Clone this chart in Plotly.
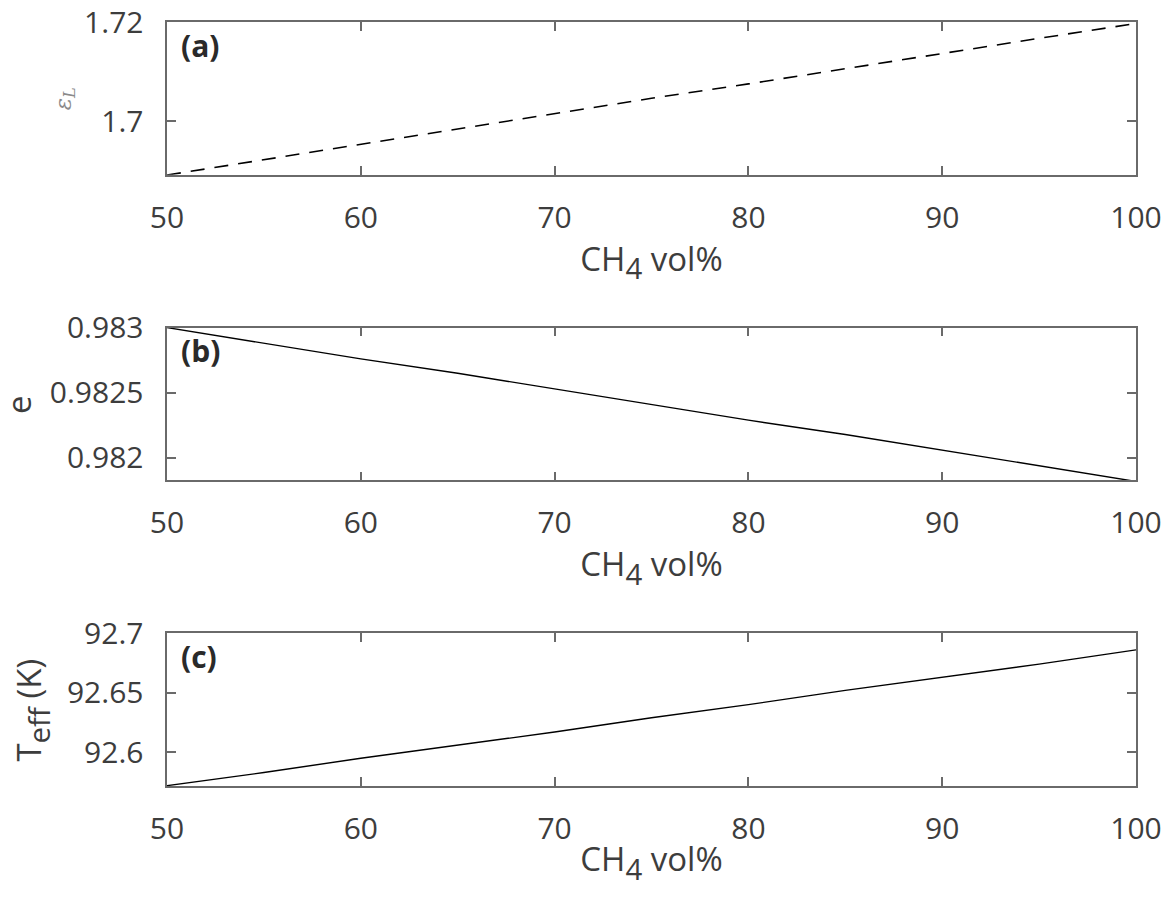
import plotly.graph_objects as go
from plotly.subplots import make_subplots

# CH4 volume percent
ch4_vol = [50, 55, 60, 65, 70, 75, 80, 85, 90, 95, 100]
# (a) epsilon_L
eps_l = [1.6891, 1.6922, 1.6953, 1.6984, 1.7015, 1.7046, 1.7075, 1.7106, 1.7137, 1.7167, 1.7197]
# (b) emissivity e
emis = [0.98300, 0.98288, 0.98276, 0.98265, 0.98253, 0.98241, 0.98229, 0.98218, 0.98206, 0.98194, 0.98182]
# (c) effective temperature (K)
t_eff = [92.572, 92.583, 92.595, 92.606, 92.617, 92.629, 92.640, 92.652, 92.663, 92.674, 92.686]

x_ticks = [50, 60, 70, 80, 90, 100]
panel_labels = ["(a)", "(b)", "(c)"]

FONT = "Open Sans"
TXT = "#3d3d3d"
AX = "#6a6a6a"
NB = "\u00a0"
x_title = "CH<span style='font-size:42px'><sub>4</sub></span> vol%"

fig = make_subplots(rows=3, cols=1, vertical_spacing=0.2)

fig.add_trace(go.Scatter(x=ch4_vol, y=eps_l, mode="lines",
                         line=dict(color="black", width=1.6, dash="14px,10px")), row=1, col=1)
fig.add_trace(go.Scatter(x=ch4_vol, y=emis, mode="lines",
                         line=dict(color="black", width=1.4)), row=2, col=1)
fig.add_trace(go.Scatter(x=ch4_vol, y=t_eff, mode="lines",
                         line=dict(color="black", width=1.4)), row=3, col=1)

common = dict(showline=True, linecolor=AX, linewidth=1.5, mirror="ticks",
              ticks="inside", ticklen=9, tickwidth=1.5, tickcolor=AX,
              showgrid=False, zeroline=False, automargin=False,
              ticklabeloverflow="allow",
              tickfont=dict(family=FONT, size=30, color=TXT))

for r in (1, 2, 3):
    fig.update_xaxes(range=[50, 100], tickvals=x_ticks, row=r, col=1,
                     ticklabelstandoff=15,
                     title=dict(text=x_title, standoff=12,
                                font=dict(family=FONT, size=33, color=TXT)),
                     **common)

fig.update_yaxes(range=[1.68915, 1.72], tickvals=[1.7, 1.72],
                 ticktext=["1.7" + NB, "1.72" + NB], ticklabelstandoff=8,
                 row=1, col=1, **common)
fig.update_yaxes(range=[0.981828, 0.983], tickvals=[0.982, 0.9825, 0.983],
                 ticktext=["0.982" + NB, "0.9825" + NB, "0.983" + NB], ticklabelstandoff=8,
                 row=2, col=1, **common)
fig.update_yaxes(range=[92.5717, 92.7], tickvals=[92.6, 92.65, 92.7],
                 ticktext=["92.6" + NB, "92.65" + NB, "92.7" + NB], ticklabelstandoff=8,
                 row=3, col=1, **common)

# y titles placed as rotated annotations (plot area is 969 px wide)
y_titles = [
    ("<i>ε<sub>L</sub></i>", -0.1053, dict(family="DejaVu Serif", size=23, color="#8a8a8a")),
    ("e", -0.1538, dict(family=FONT, size=33, color=TXT)),
    ("T<span style='font-size:42px'><sub>eff</sub></span> (K)", -0.1383, dict(family=FONT, size=33, color=TXT)),
]

for i, lab in enumerate(panel_labels):
    ax = "" if i == 0 else str(i + 1)
    fig.add_annotation(text="<b>" + lab + "</b>", xref="x" + ax + " domain", yref="y" + ax + " domain",
                       x=0.012, y=0.995, xanchor="left", yanchor="top", showarrow=False,
                       font=dict(family=FONT, size=30, color="#2a2a2a"))
    txt, xpos, fnt = y_titles[i]
    fig.add_annotation(text=txt, xref="x" + ax + " domain", yref="y" + ax + " domain",
                       x=xpos, y=0.5, xanchor="center", yanchor="middle", textangle=-90,
                       showarrow=False, font=fnt)

# page body adds an 8px offset, so the figure is a bit smaller than the window
fig.update_layout(width=1153, height=881, showlegend=False,
                  margin=dict(l=159, r=25, t=14, b=103),
                  paper_bgcolor="white", plot_bgcolor="white")

fig.write_html("out.html")
